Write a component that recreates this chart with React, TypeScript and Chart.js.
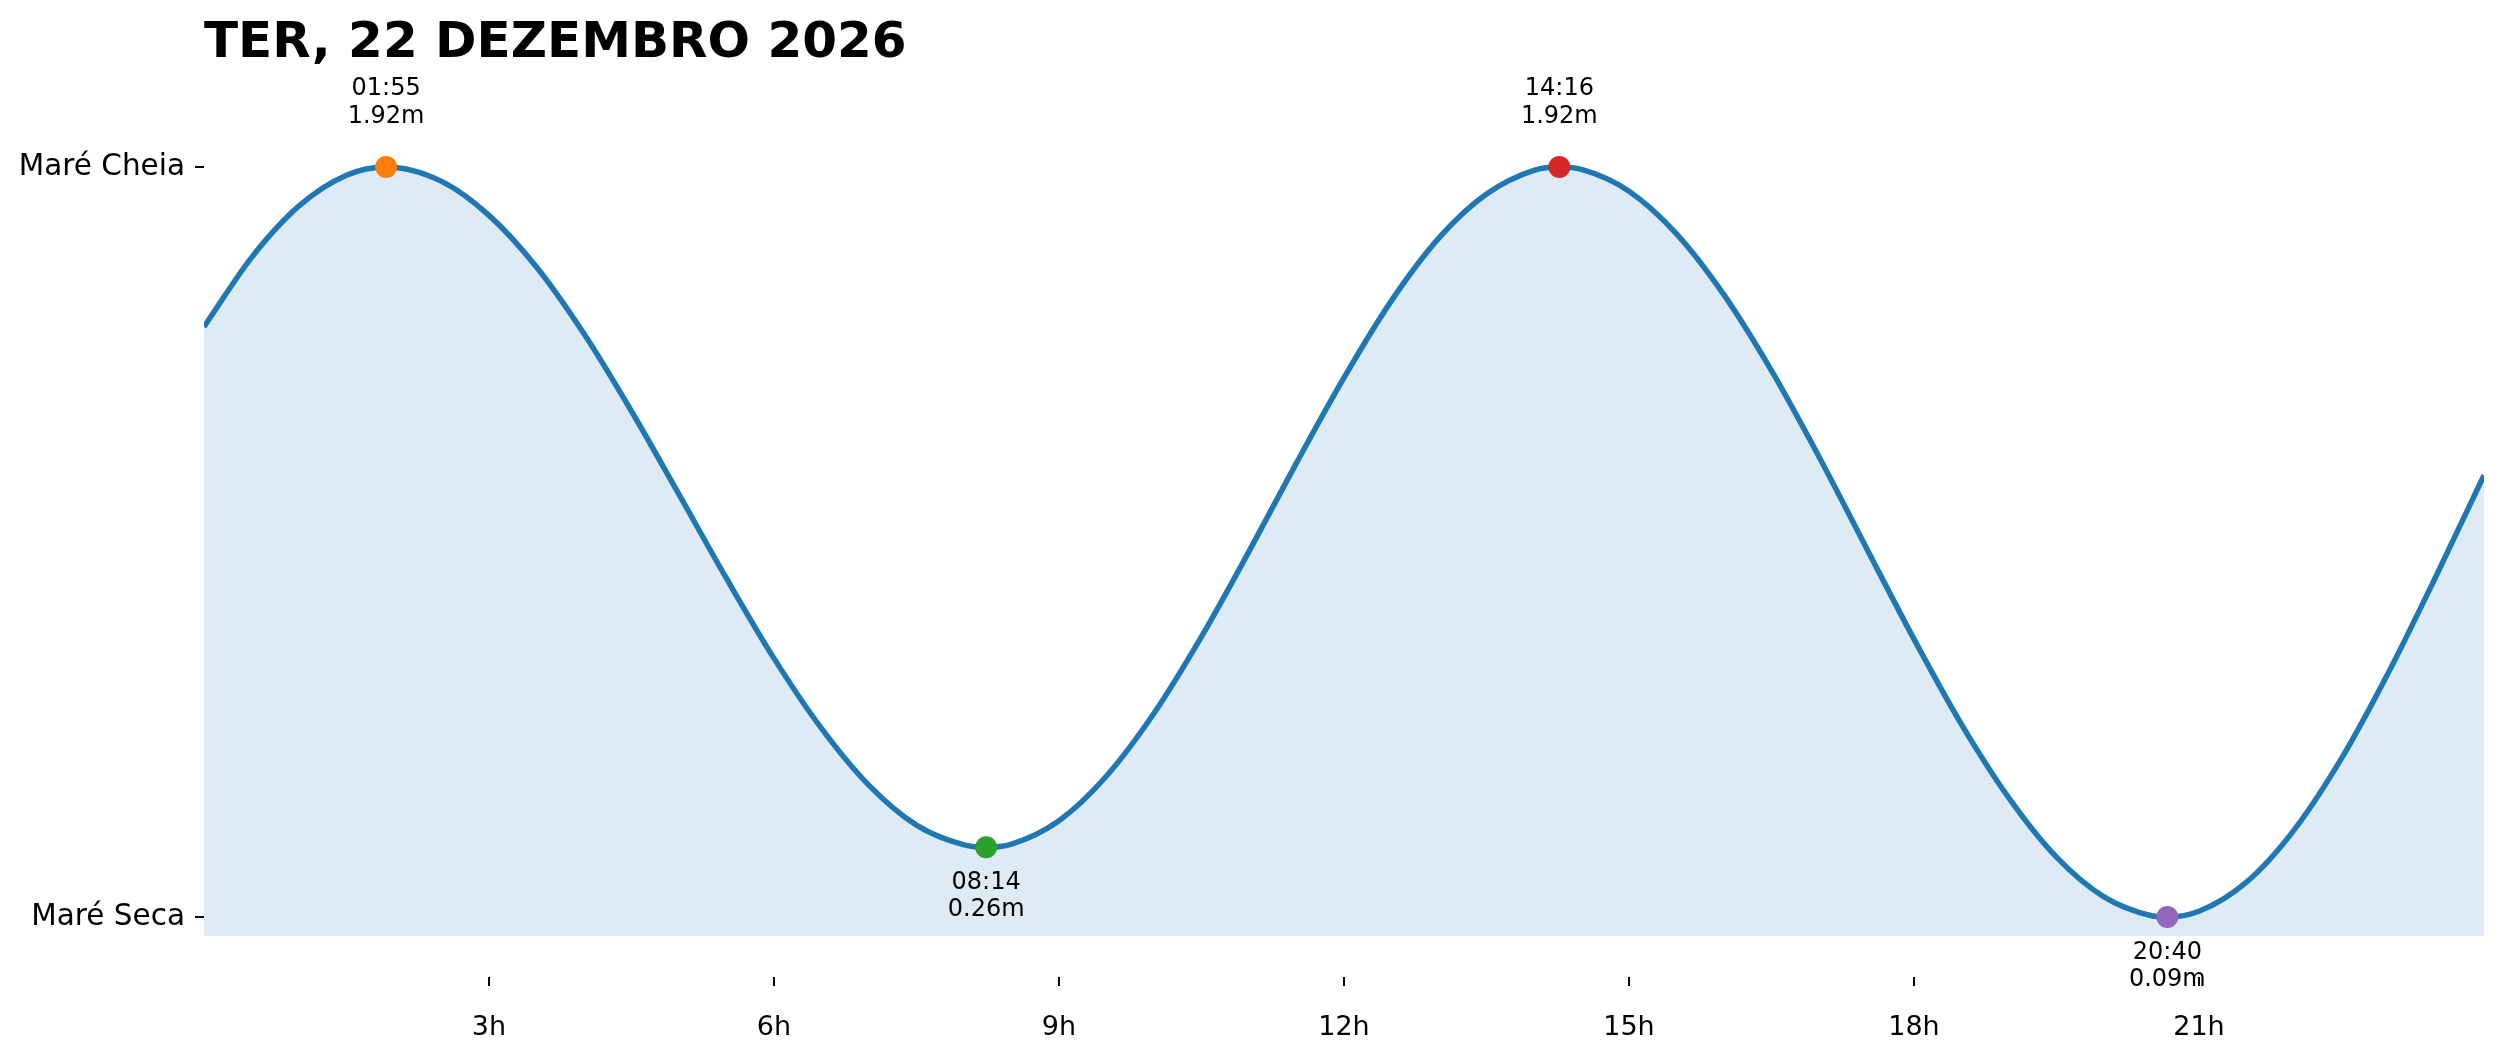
import React, { useEffect, useRef } from "react";
import { Chart, registerables } from "chart.js";

Chart.register(...registerables);

const TITLE = "TER, 22 DEZEMBRO 2026";

// Tide curve (hours since midnight, metres)
const HOURS = [
  0, 0.5, 1, 1.5, 1.9167, 2.5, 3, 3.5, 4, 4.5, 5, 5.5, 6, 6.5, 7, 7.5, 8, 8.2333, 8.5,
  9, 9.5, 10, 10.5, 11, 11.5, 12, 12.5, 13, 13.5, 14, 14.2667, 14.5, 15, 15.5, 16, 16.5,
  17, 17.5, 18, 18.5, 19, 19.5, 20, 20.5, 20.6667, 21, 21.5, 22, 22.5, 23, 23.5, 24,
];
const LEVELS = [
  1.53, 1.699, 1.825, 1.9, 1.92, 1.885, 1.802, 1.676, 1.513, 1.324, 1.121, 0.916, 0.721, 0.55, 0.411, 0.314, 0.266, 0.26, 0.268,
  0.325, 0.434, 0.587, 0.774, 0.982, 1.198, 1.406, 1.594, 1.747, 1.854, 1.912, 1.92, 1.914, 1.861, 1.757, 1.608, 1.423,
  1.213, 0.99, 0.768, 0.56, 0.38, 0.236, 0.139, 0.093, 0.09, 0.104, 0.175, 0.302, 0.477, 0.689, 0.924, 1.168,
];

// Extremes
const EXT_HOURS = [1.9167, 8.2333, 14.2667, 20.6667];
const EXT_LEVELS = [1.92, 0.26, 1.92, 0.09];
const EXT_TIMES = ["01:55", "08:14", "14:16", "20:40"];
const EXT_TYPES = ["high", "low", "high", "low"];
const EXT_COLORS = ["#ff7f0e", "#2ca02c", "#d62728", "#9467bd"];

const X_TICKS = [3, 6, 9, 12, 15, 18, 21];
const Y_TICKS = [0.09, 1.92];
const Y_TICK_LABELS = ["Maré Seca", "Maré Cheia"];

const FONT = "'DejaVu Sans', sans-serif";

const extremaLabels = {
  id: "extremaLabels",
  afterDatasetsDraw(chart: any) {
    const { ctx, scales } = chart;
    ctx.save();
    ctx.fillStyle = "#000";
    ctx.font = `24px ${FONT}`;
    ctx.textAlign = "center";
    ctx.textBaseline = "alphabetic";
    EXT_HOURS.forEach((h, i) => {
      const x = scales.x.getPixelForValue(h);
      const y = scales.y.getPixelForValue(EXT_LEVELS[i]);
      const l1 = EXT_TIMES[i];
      const l2 = EXT_LEVELS[i].toFixed(2) + "m";
      if (EXT_TYPES[i] === "high") {
        ctx.fillText(l1, x, y - 72);
        ctx.fillText(l2, x, y - 44);
      } else {
        ctx.fillText(l1, x, y + 41.5);
        ctx.fillText(l2, x, y + 69);
      }
    });
    ctx.restore();
  },
};

const titlePlugin = {
  id: "leftTitle",
  afterDraw(chart: any) {
    const { ctx, chartArea } = chart;
    ctx.save();
    ctx.fillStyle = "#000";
    ctx.font = `bold 50px ${FONT}`;
    ctx.textAlign = "left";
    ctx.textBaseline = "alphabetic";
    ctx.fillText(TITLE, chartArea.left, 57);
    ctx.restore();
  },
};

export default function App() {
  const ref = useRef<HTMLCanvasElement | null>(null);

  useEffect(() => {
    if (!ref.current) return;
    const chart = new Chart(ref.current, {
      type: "line",
      data: {
        datasets: [
          {
            label: "tide",
            data: HOURS.map((h, i) => ({ x: h, y: LEVELS[i] })),
            borderColor: "#1f77b4",
            borderWidth: 5.5,
            backgroundColor: "rgba(31,119,180,0.15)",
            fill: "start",
            pointRadius: 0,
            cubicInterpolationMode: "monotone",
            order: 2,
          },
          {
            label: "extremes",
            data: EXT_HOURS.map((h, i) => ({ x: h, y: EXT_LEVELS[i] })),
            showLine: false,
            pointRadius: 11,
            pointBackgroundColor: EXT_COLORS,
            pointBorderWidth: 0,
            borderWidth: 0,
            fill: false,
            order: 1,
          },
        ],
      },
      options: {
        animation: false,
        responsive: true,
        maintainAspectRatio: false,
        devicePixelRatio: 1,
        layout: { padding: { top: 75, right: 17, left: 0, bottom: 0 } },
        plugins: {
          legend: { display: false },
          title: { display: false },
          tooltip: { enabled: false },
        },
        scales: {
          x: {
            type: "linear",
            min: 0,
            max: 24,
            afterBuildTicks(scale: any) {
              scale.ticks = X_TICKS.map((v) => ({ value: v }));
            },
            afterFit(scale: any) {
              scale.height = 126;
            },
            border: { display: false },
            grid: {
              drawOnChartArea: false,
              drawTicks: true,
              tickLength: 50,
              tickBorderDash: [0, 41, 9, 200],
              color: "#000",
              lineWidth: 2,
            },
            ticks: {
              color: "#000",
              font: { family: FONT, size: 27 },
              padding: 26,
              maxRotation: 0,
              autoSkip: false,
              callback: (v: any) => `${v}h`,
            },
          },
          y: {
            type: "linear",
            min: 0.04364,
            max: 2.1445,
            afterBuildTicks(scale: any) {
              scale.ticks = Y_TICKS.map((v) => ({ value: v }));
            },
            afterFit(scale: any) {
              scale.width = 204;
            },
            border: { display: false },
            grid: {
              drawOnChartArea: false,
              drawTicks: true,
              tickLength: 9,
              color: "#000",
              lineWidth: 2,
            },
            ticks: {
              color: "#000",
              font: { family: FONT, size: 29.5 },
              padding: 10,
              autoSkip: false,
              callback: (_v: any, i: number) => Y_TICK_LABELS[i],
            },
          },
        },
      },
      plugins: [extremaLabels, titlePlugin],
    });
    return () => chart.destroy();
  }, []);

  return (
    <div style={{ position: "absolute", left: 0, top: 0, width: 2501, height: 1062, background: "#fff" }}>
      <canvas ref={ref} />
    </div>
  );
}
